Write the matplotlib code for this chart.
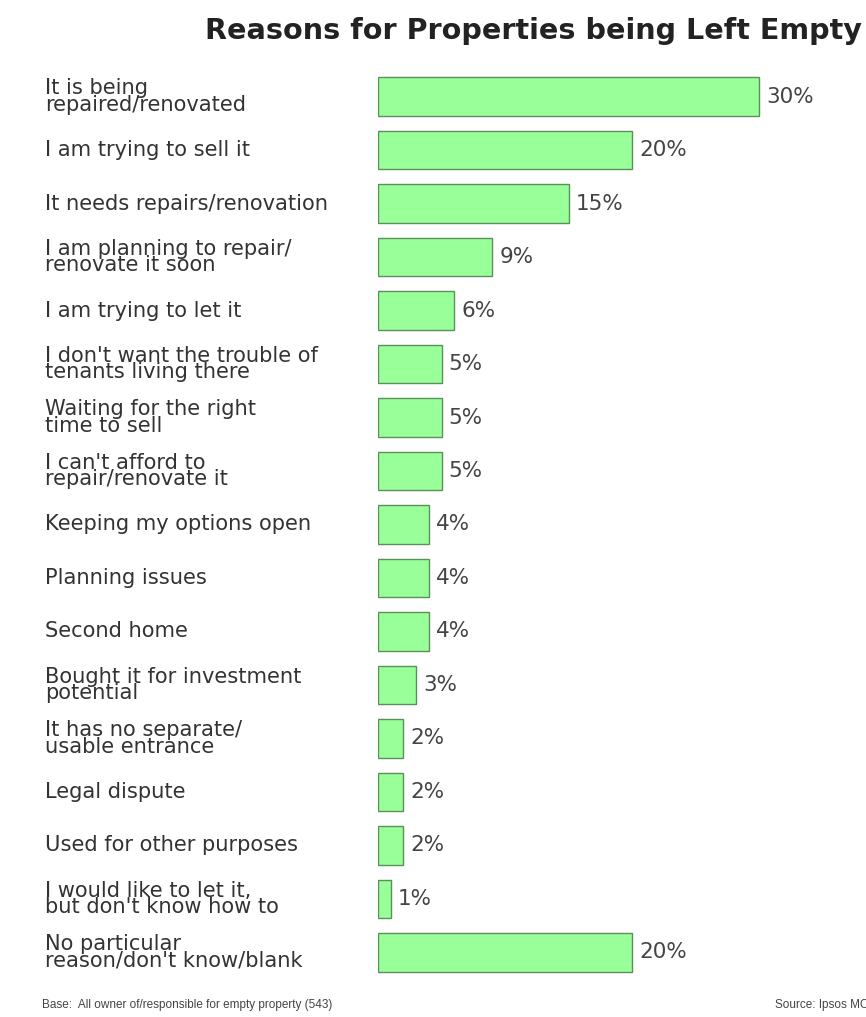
import matplotlib
matplotlib.use("Agg")
import matplotlib.pyplot as plt
import matplotlib.transforms as mtransforms

categories = [
    "It is being\nrepaired/renovated",
    "I am trying to sell it",
    "It needs repairs/renovation",
    "I am planning to repair/\nrenovate it soon",
    "I am trying to let it",
    "I don't want the trouble of\ntenants living there",
    "Waiting for the right\ntime to sell",
    "I can't afford to\nrepair/renovate it",
    "Keeping my options open",
    "Planning issues",
    "Second home",
    "Bought it for investment\npotential",
    "It has no separate/\nusable entrance",
    "Legal dispute",
    "Used for other purposes",
    "I would like to let it,\nbut don't know how to",
    "No particular\nreason/don't know/blank",
]
values = [30, 20, 15, 9, 6, 5, 5, 5, 4, 4, 4, 3, 2, 2, 2, 1, 20]
value_labels = ["30%", "20%", "15%", "9%", "6%", "5%", "5%", "5%", "4%", "4%",
                "4%", "3%", "2%", "2%", "2%", "1%", "20%"]

title = "Reasons for Properties being Left Empty"
base_note = "Base:  All owner of/responsible for empty property (543)"
source_note = "Source: Ipsos MORI"

W, H = 866, 1017
fig = plt.figure(figsize=(W / 100, H / 100), dpi=100)
fig.patch.set_facecolor("white")

ax_left = 378 / W
ax_top = 70
ax_bottom = 979
ax = fig.add_axes([ax_left, 1 - ax_bottom / H, 1 - ax_left, (ax_bottom - ax_top) / H])

n = len(categories)
ypos = list(range(n))
ax.barh(ypos, values, height=0.72, color="#99FF99", edgecolor="#5B8F5B", linewidth=1.0, align="center")
ax.set_ylim(n - 0.5, -0.5)
ax.set_xlim(0, (W - 378) / 12.7)
ax.axis("off")

font = "DejaVu Sans"
for y, v, lab in zip(ypos, values, value_labels):
    ax.annotate(lab, xy=(v, y), xytext=(7, 0), textcoords="offset pixels",
                ha="left", va="center", fontsize=15.5, color="#444444", family=font)

trans = mtransforms.blended_transform_factory(fig.transFigure, ax.transData)
for y, cat in zip(ypos, categories):
    ax.text(45 / W, y, cat, transform=trans, ha="left", va="center", fontsize=15.1,
            color="#333333", family=font, linespacing=0.78)

fig.text(533 / W, 1 - 31 / H, title, ha="center", va="center", fontsize=20.6,
         fontweight="bold", color="#222222", family=font)
fig.text(42 / W, 1 - 1005 / H, base_note, ha="left", va="center", fontsize=8.5,
         color="#444444", family="Liberation Sans")
fig.text(775 / W, 1 - 1005 / H, source_note, ha="left", va="center", fontsize=8.5,
         color="#444444", family="Liberation Sans")

fig.savefig("out.png", dpi=100, facecolor="white")
